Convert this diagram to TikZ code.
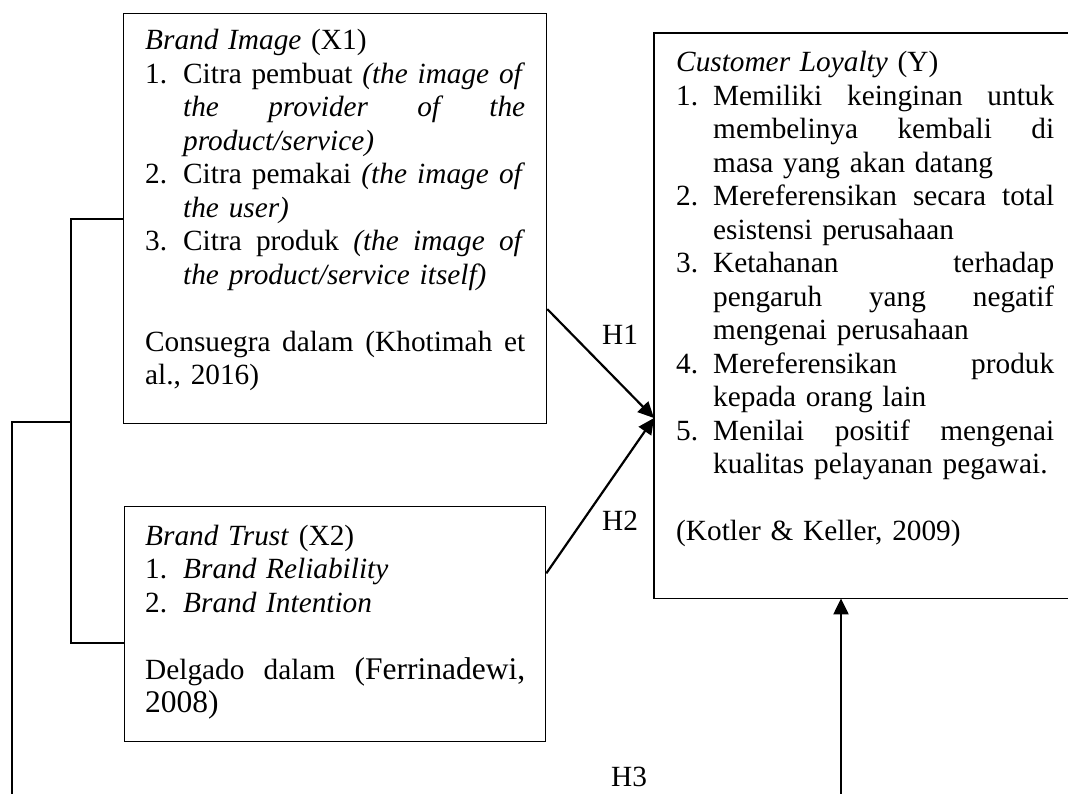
\documentclass[tikz,border=0pt]{standalone}
\usepackage{fontspec}
\setmainfont{Liberation Serif}
\usetikzlibrary{calc,arrows.meta}
\newcommand{\jl}[2][342pt]{\hbox to #1{\spaceskip=\fontdimen2\font plus 1fil\relax #2}}
\newcommand{\itm}[3][38pt]{\par\noindent\hangindent=#1\hangafter=1\makebox[#1][l]{#2}#3\par}
\newcommand{\blankline}{\par\noindent\mbox{}\par}
\begin{document}
\begin{tikzpicture}[x=1pt,y=-1pt,
  boxline/.style={draw=black,line width=1.3pt},
  box/.style={boxline,inner sep=0pt,anchor=north west},
  txt/.style={inner sep=0pt,anchor=base west,font=\fontsize{29.3pt}{33.5pt}\selectfont},
  lbl/.style={inner sep=0pt,font=\fontsize{29.3pt}{33.5pt}\selectfont},
  ln/.style={line width=1.8pt},
  arr/.style={line width=2.2pt,-{Triangle[length=16pt,width=15pt]}}]
\useasboundingbox (0,0) rectangle (1068,794);
% boxes
\node[box,minimum width=423pt,minimum height=410pt] (x1) at (123,13) {};
\node[box,minimum width=421pt,minimum height=235pt] (x2) at (124,506) {};
\node[inner sep=0pt,anchor=north west,minimum width=414pt,minimum height=565pt] (y) at (654,33) {};
\draw[boxline] (y.north east) -- (y.north west) -- (y.south west) -- (y.south east);
% texts
\node[txt,text width=380pt] (x1t) at (145,50) {\parindent=0pt\parskip=0pt
\noindent\textit{Brand Image} (X1)\par
\itm{1.}{\jl{Citra pembuat \textit{(the image of}}\newline\jl{\textit{the provider of the}}\newline\textit{product/service)}}
\itm{2.}{\jl{Citra pemakai \textit{(the image of}}\newline\textit{the user)}}
\itm{3.}{\jl{Citra produk \textit{(the image of}}\newline\textit{the product/service itself)}}
\blankline
\noindent\jl[380pt]{Consuegra dalam (Khotimah et}\newline al., 2016)\par};
\node[txt,text width=380pt] (x2t) at (145,545) {\parindent=0pt\parskip=0pt
\noindent\textit{Brand Trust} (X2)\par
\itm{1.}{\textit{Brand Reliability}}
\itm{2.}{\textit{Brand Intention}}
\blankline
\noindent\jl[380pt]{Delgado dalam {\fontsize{31.5pt}{35pt}\selectfont(Ferrinadewi,}}\newline{\fontsize{31.5pt}{35pt}\selectfont 2008)}\par};
\node[txt,text width=378pt] (yt) at (676,72) {\parindent=0pt\parskip=0pt
\noindent\textit{Customer Loyalty} (Y)\par
\itm[37pt]{1.}{\jl[341pt]{Memiliki keinginan untuk}\newline\jl[341pt]{membelinya kembali di}\newline masa yang akan datang}
\itm[37pt]{2.}{\jl[341pt]{Mereferensikan secara total}\newline esistensi perusahaan}
\itm[37pt]{3.}{\jl[341pt]{Ketahanan terhadap}\newline\jl[341pt]{pengaruh yang negatif}\newline mengenai perusahaan}
\itm[37pt]{4.}{\jl[341pt]{Mereferensikan produk}\newline kepada orang lain}
\itm[37pt]{5.}{\jl[341pt]{Menilai positif mengenai}\newline kualitas pelayanan pegawai.}
\blankline
\noindent(Kotler \& Keller, 2009)\par};
% connectors
\coordinate (tip) at ($(y.north west)!0.681!(y.south west)$);
\draw[arr] ($(x1.north east)!0.72!(x1.south east)$) -- (tip);
\draw[arr] ($(x2.north east)!0.285!(x2.south east)$) -- (tip);
\coordinate (h3s) at (841,794);
\draw[arr] (h3s) -- (h3s |- y.south);
\draw[ln] (x1.west) -- ++(-52,0) |- ($(x2.north west)!0.58!(x2.south west)$);
\coordinate (bl) at (12,794);
\coordinate (jn) at (71,422);
\draw[ln] (bl) |- (jn);
% labels
\node[lbl] (h1) at (620,335) {H1};
\node[lbl] (h2) at (620,521) {H2};
\node[lbl] (h3) at (629,777) {H3};
\end{tikzpicture}
\end{document}
